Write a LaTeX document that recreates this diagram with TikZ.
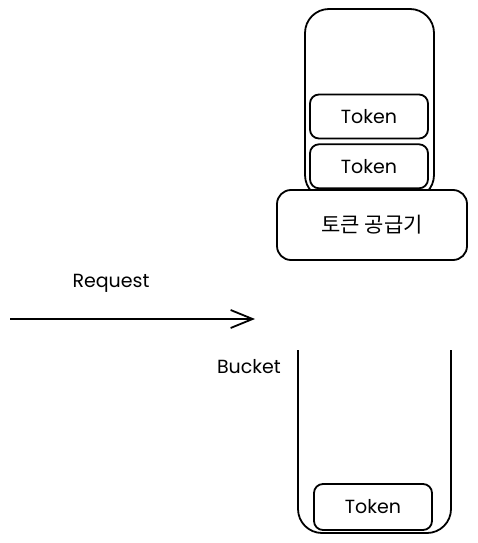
\documentclass[tikz,border=0pt]{standalone}
\usepackage{fontspec}
\setmainfont{Poppins}
\newfontfamily\krfont{Noto Sans CJK KR}
\usetikzlibrary{arrows.meta, positioning}

\begin{document}
\begin{tikzpicture}[x=1pt, y=-1pt, line width=1.8pt, every node/.style={align=center, font=\fontsize{19}{22}\selectfont},
		token/.style={rectangle, draw, rounded corners=9pt, minimum width=118pt, minimum height=44pt}]
	\useasboundingbox (0,0) rectangle (478,543);
	% Nodes
	\node (store) [rectangle, draw, rounded corners=24pt, minimum width=129pt, minimum height=190pt] at (369.5,104) {};
	\node (tok1) [token] at (369,116.5) {Token};
	\node (tok2) [token, below=4pt of tok1] {Token};
	\node (supplier) [rectangle, draw, fill=white, rounded corners=14pt, minimum width=190pt, minimum height=70pt] at (372,225) {\krfont\fontsize{21}{24}\selectfont 토큰 공급기};
	\node (request) at (111,283) {Request};
	\node (bucket) at (249,367) {Bucket};
	\node (tok3) [token, minimum height=46pt] at (373,507) {Token};
	
	% Bucket
	\draw[rounded corners=24pt] (298,350) -- (298,533) -- (451,533) -- (451,350);
	
	% Arrows
	\coordinate (src) at (10,319);
	\coordinate (dst) at (255,319);
	\draw[-{Straight Barb[length=22pt, width=18pt]}] (src) -- (dst);
\end{tikzpicture}
\end{document}
